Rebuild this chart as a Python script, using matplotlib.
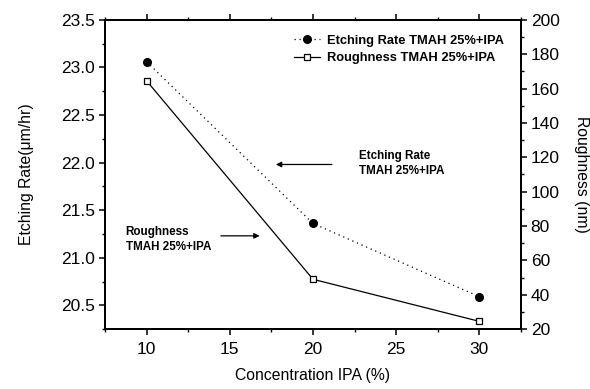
import matplotlib
matplotlib.use("Agg")
import matplotlib.pyplot as plt
from matplotlib.ticker import MultipleLocator

plt.rcParams['font.family'] = ['Liberation Sans', 'DejaVu Sans']

conc = [10, 20, 30]
etch_rate = [23.06, 21.36, 20.59]
roughness = [164.5, 49.0, 24.5]

fig = plt.figure(figsize=(5.9, 3.89), dpi=100)
ax = fig.add_axes([0.178, 0.154, 0.705, 0.795])
ax2 = ax.twinx()

l1, = ax.plot(conc, etch_rate, linestyle=(0, (1, 3)), color='black', lw=0.9,
              marker='o', markersize=5.5, markerfacecolor='black', markeredgecolor='black',
              label='Etching Rate TMAH 25%+IPA')
l2, = ax2.plot(conc, roughness, linestyle='-', color='black', lw=0.9,
               marker='s', markersize=4.5, markerfacecolor='white', markeredgecolor='black',
               markeredgewidth=0.9, label='Roughness TMAH 25%+IPA')

ax.set_xlim(7.5, 32.5)
ax.set_ylim(20.25, 23.5)
ax2.set_ylim(20, 200)

ax.xaxis.set_major_locator(MultipleLocator(5))
ax.xaxis.set_minor_locator(MultipleLocator(2.5))
ax.yaxis.set_major_locator(MultipleLocator(0.5))
ax.yaxis.set_minor_locator(MultipleLocator(0.25))
ax2.yaxis.set_major_locator(MultipleLocator(20))
ax2.yaxis.set_minor_locator(MultipleLocator(10))

for a in (ax, ax2):
    for s in a.spines.values():
        s.set_linewidth(1.3)

ax.tick_params(axis='both', which='major', direction='out', length=4, width=1.1,
               labelsize=12.5, top=True, pad=3)
ax.tick_params(axis='both', which='minor', direction='out', length=2.5, width=1.0, top=True)
ax.tick_params(axis='x', which='both', top=True, labeltop=False)
ax.tick_params(axis='x', which='major', pad=5)
ax2.tick_params(axis='y', which='major', direction='out', length=4, width=1.1, labelsize=12.5, pad=3)
ax2.tick_params(axis='y', which='minor', direction='out', length=2.5, width=1.0)

ax.set_xlabel('Concentration IPA (%)', fontsize=11.3, labelpad=8)
ax.set_ylabel('Etching Rate(\u03bcm/hr)', fontsize=11.3, labelpad=20)
ax2.set_ylabel('Roughness (nm)', fontsize=11.3, rotation=270, labelpad=21)

leg = ax.legend(handles=[l1, l2], loc='upper right', bbox_to_anchor=(0.986, 0.99),
                frameon=False, prop={'weight': 'bold', 'size': 9.3},
                handlelength=2.0, handletextpad=0.5, labelspacing=0.45, borderaxespad=0.5)

ax.annotate('', xy=(17.6, 21.98), xytext=(21.3, 21.98),
            arrowprops=dict(arrowstyle='-|>', color='black', lw=0.9, mutation_scale=8))
ax.text(22.75, 21.99, 'Etching Rate\nTMAH 25%+IPA', fontsize=8.4, fontweight='bold',
        ha='left', va='center', linespacing=1.35)

ax.annotate('', xy=(16.96, 21.23), xytext=(14.3, 21.23),
            arrowprops=dict(arrowstyle='-|>', color='black', lw=0.9, mutation_scale=8))
ax.text(8.74, 21.19, 'Roughness\nTMAH 25%+IPA', fontsize=8.4, fontweight='bold',
        ha='left', va='center', linespacing=1.35)

fig.savefig('out.png', dpi=100)
